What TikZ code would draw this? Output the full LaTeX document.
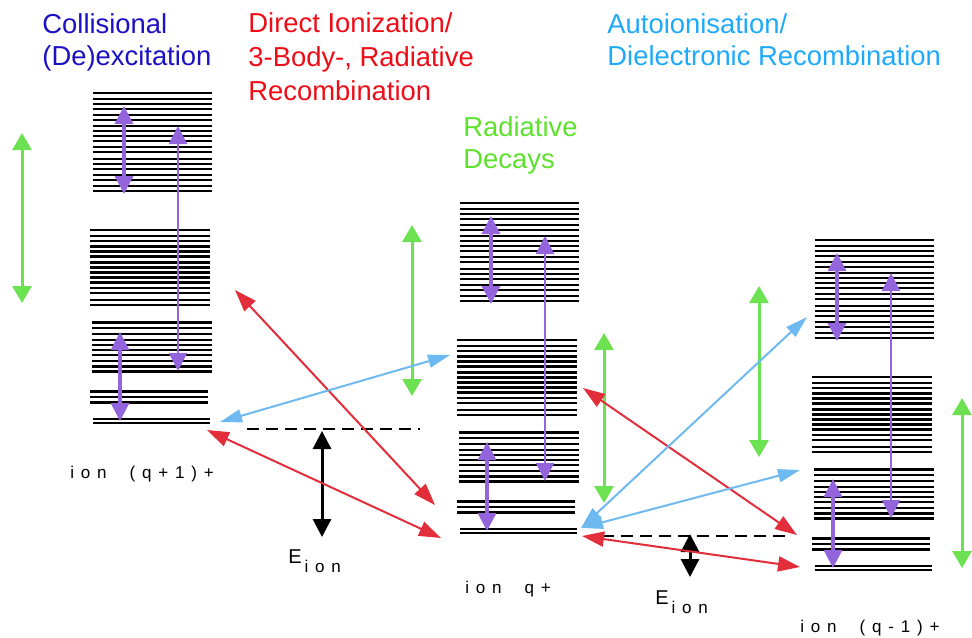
\documentclass[tikz,border=0pt]{standalone}
\usepackage{fontspec}
\setmainfont{Liberation Sans}
\newfontfamily\spacedfont[LetterSpace=40]{Liberation Sans}
\usetikzlibrary{arrows.meta}

\definecolor{collblue}{RGB}{28,16,196}
\definecolor{iontext}{RGB}{240,12,22}
\definecolor{decaytext}{RGB}{92,226,44}
\definecolor{autotext}{RGB}{30,170,250}
\definecolor{ionred}{RGB}{226,46,58}
\definecolor{autoblue}{RGB}{110,186,240}
\definecolor{decaygreen}{RGB}{108,226,82}
\definecolor{collpurple}{RGB}{148,100,220}

\begin{document}
\begin{tikzpicture}[x=0.5pt, y=-0.5pt,
    levelline/.style={line width=1.1pt},
    collarrow/.style={draw=collpurple, line width=1.6pt,
        {Triangle[length=9pt,width=9pt]}-{Triangle[length=9pt,width=9pt]}},
    longcoll/.style={collarrow, line width=1.1pt},
    decayarrow/.style={draw=decaygreen, line width=1.5pt,
        {Triangle[length=8.5pt,width=9.5pt]}-{Triangle[length=8.5pt,width=9.5pt]}},
    ionarrow/.style={draw=ionred, line width=1pt,
        {Triangle[length=11pt,width=7.5pt]}-{Triangle[length=11pt,width=7.5pt]}},
    autoarrow/.style={draw=autoblue, line width=1pt,
        {Triangle[length=11pt,width=6.5pt]}-{Triangle[length=11pt,width=6.5pt]}},
    energyarrow/.style={draw=black, line width=1.5pt,
        {Triangle[length=9pt,width=9pt]}-{Triangle[length=9pt,width=9pt]}},
    threshold/.style={line width=1pt, dash pattern=on 6pt off 3.5pt},
    titletext/.style={anchor=base west, align=left, inner sep=0pt},
    smalltext/.style={anchor=base west, inner sep=0pt,
        font=\fontsize{8.5}{10}\spacedfont}]

\useasboundingbox (0,0) rectangle (972,637);

% Level ladders of the three ions, with collisional transitions
\foreach \ion/\dx/\dy/\px in {ionA/0/0/0, ionB/367/110/0, ionC/722/147/-9} {
  \begin{scope}[shift={(90+\dx,93+\dy)}]
    \foreach \y in {0,5.7,11,16,21.7,27.3,33.3,38.3,43.3,48.3,54.3,59.3,
                    65.7,70.7,76,81.7,86.7,92.7,98.3}
      \draw[levelline] (3,\y) -- (122,\y);
    \foreach \y in {136.7,142.7,147.7,153.4,158.4,163.4,169.4,174.4,179.4,
                    184.4,189.4,195,200,206.7,211.7}
      \draw[levelline] (0,\y) -- (120,\y);
    \foreach \y in {229.4,235,240.7,246.7,251.7,256.7,261.7,267.7,273.4,278.4}
      \draw[levelline] (2,\y) -- (122,\y);
    \foreach \y in {298.4,304,309.4}
      \draw[levelline] (0,\y) -- (118,\y);
    \foreach \y in {326,330}
      \draw[levelline] (3,\y) -- (120,\y);

    % collisional (de)excitation
    \coordinate (\ion-up1) at (34+\px,13);
    \coordinate (\ion-up2) at (34+\px,101);
    \coordinate (\ion-long1) at (88+\px,33);
    \coordinate (\ion-long2) at (88+\px,278);
    \coordinate (\ion-low1) at (30+\px,239);
    \coordinate (\ion-low2) at (30+\px,328);
    \draw[collarrow] (\ion-up1) -- (\ion-up2);
    \draw[longcoll] (\ion-long1) -- (\ion-long2);
    \draw[collarrow] (\ion-low1) -- (\ion-low2);
  \end{scope}
}

% Headings (anchored at the baseline of their last line)
\node[titletext, text=collblue, font=\fontsize{13.7}{16}\selectfont]
    (colltitle) at (42,65) {Collisional\\(De)excitation};
\node[titletext, text=iontext, font=\fontsize{13.7}{17}\selectfont]
    (iontitle) at (248,100) {Direct Ionization/\\3-Body-, Radiative\\Recombination};
\node[titletext, text=decaytext, font=\fontsize{13.7}{16}\selectfont]
    (decaytitle) at (463,168.5) {Radiative\\Decays};
\node[titletext, text=autotext, font=\fontsize{13.7}{16}\selectfont]
    (autotitle) at (607,65) {Autoionisation/\\Dielectronic Recombination};

% Ion labels
\node[smalltext] (labelA) at (70,478) {ion\ \ (q+1)+};
\node[smalltext] (labelB) at (465,593) {ion\ \ q+};
\node[smalltext] (labelC) at (800,632) {ion\ \ (q-1)+};

% Ionisation energies
\node[smalltext] (eionA) at (288,563) {\fontsize{10}{10}\selectfont E\raisebox{-4.5pt}{\fontsize{8.5}{10}\spacedfont\,ion}};
\node[smalltext] (eionB) at (655,604) {\fontsize{10}{10}\selectfont E\raisebox{-4.5pt}{\fontsize{8.5}{10}\spacedfont\,ion}};

% Ionisation thresholds
\coordinate (thrA-l) at (247,429);
\coordinate (thrA-r) at (420,429);
\coordinate (thrB-l) at (602,536);
\coordinate (thrB-r) at (787,536);
\draw[threshold] (thrA-l) -- (thrA-r);
\draw[threshold] (thrB-l) -- (thrB-r);

\coordinate (energyA-t) at (322,431);
\coordinate (energyA-b) at (322,537);
\coordinate (energyB-t) at (690,534);
\coordinate (energyB-b) at (690,577);
\draw[energyarrow] (energyA-t) -- (energyA-b);
\draw[energyarrow] (energyB-t) -- (energyB-b);

% Radiative decays
\coordinate (decay1-t) at (22,133);
\coordinate (decay1-b) at (22,303);
\coordinate (decay2-t) at (412,225);
\coordinate (decay2-b) at (412,396);
\coordinate (decay3-t) at (604,333);
\coordinate (decay3-b) at (604,503);
\coordinate (decay4-t) at (759,286);
\coordinate (decay4-b) at (759,457);
\coordinate (decay5-t) at (962,398);
\coordinate (decay5-b) at (962,568);
\foreach \k in {1,...,5}
  \draw[decayarrow] (decay\k-t) -- (decay\k-b);

% Direct ionization / recombination
\coordinate (ion1-a) at (235,290);
\coordinate (ion1-b) at (435,505);
\coordinate (ion2-a) at (207,430);
\coordinate (ion2-b) at (441,538);
\coordinate (ion3-a) at (583,388);
\coordinate (ion3-b) at (797,535);
\coordinate (ion4-a) at (582,536);
\coordinate (ion4-b) at (800,567);
\foreach \k in {1,...,4}
  \draw[ionarrow] (ion\k-a) -- (ion\k-b);

% Autoionisation / dielectronic recombination
\coordinate (auto1-a) at (220,422);
\coordinate (auto1-b) at (450,355);
\coordinate (auto2-a) at (581,528);
\coordinate (auto2-b) at (807,317);
\coordinate (auto3-a) at (581,528);
\coordinate (auto3-b) at (800,470);
\foreach \k in {1,2,3}
  \draw[autoarrow] (auto\k-a) -- (auto\k-b);

\end{tikzpicture}
\end{document}
